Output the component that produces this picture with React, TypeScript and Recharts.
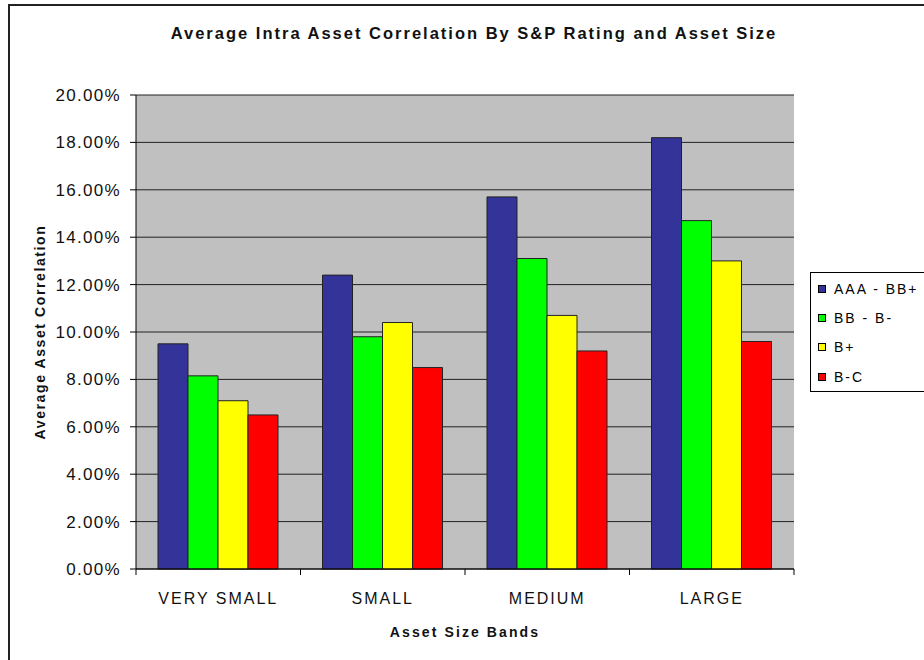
import React from 'react';
import { BarChart, Bar, XAxis, YAxis, CartesianGrid, Legend } from 'recharts';

const categories = ['VERY SMALL', 'SMALL', 'MEDIUM', 'LARGE'];
const aaaToBBPlus = [9.5, 12.4, 15.7, 18.2];
const bbToBMinus = [8.15, 9.8, 13.1, 14.7];
const bPlus = [7.1, 10.4, 10.7, 13.0];
const bToC = [6.5, 8.5, 9.2, 9.6];
const yTicks = [0, 2, 4, 6, 8, 10, 12, 14, 16, 18, 20];

const series = [
  { key: 'aaa', name: 'AAA - BB+', color: '#333399', values: aaaToBBPlus },
  { key: 'bb', name: 'BB - B-', color: '#00FF00', values: bbToBMinus },
  { key: 'bp', name: 'B+', color: '#FFFF00', values: bPlus },
  { key: 'bc', name: 'B-C', color: '#FF0000', values: bToC },
];

const data = categories.map((cat, i) => {
  const row: Record<string, string | number> = { cat };
  series.forEach(s => {
    row[s.key] = s.values[i];
  });
  return row;
});

const W = 924;
const H = 660;
const margin = { top: 95, right: 130, bottom: 21, left: 0 };
const yAxisWidth = 136;
const xAxisHeight = 70;
const plotWidth = W - margin.left - margin.right - yAxisWidth;
const band = plotWidth / categories.length;

const font = '"Liberation Sans", Arial, sans-serif';

const XTick = (props: any) => {
  const { x, y, payload, index } = props;
  const top = y - 8;
  return (
    <g>
      <line x1={x - band / 2} y1={top} x2={x - band / 2} y2={top + 6} stroke="#000" />
      {index === categories.length - 1 && (
        <line x1={x + band / 2} y1={top} x2={x + band / 2} y2={top + 6} stroke="#000" />
      )}
      <text
        x={x}
        y={top + 35}
        textAnchor="middle"
        fill="#111"
        fontSize={16}
        letterSpacing={2}
        fontFamily={font}
      >
        {payload.value}
      </text>
    </g>
  );
};

const LegendBox = () => (
  <div
    style={{
      border: '1px solid #000',
      background: '#fff',
      width: 120,
      height: 120,
      boxSizing: 'border-box',
      paddingTop: 1,
      fontFamily: font,
      fontSize: 14,
      letterSpacing: 2,
      color: '#000',
    }}
  >
    {series.map(s => (
      <div key={s.key} style={{ display: 'flex', alignItems: 'center', height: 29.3 }}>
        <span
          style={{
            display: 'inline-block',
            width: 6,
            height: 6,
            background: s.color,
            border: '1px solid #000',
            marginLeft: 7,
            marginRight: 8,
          }}
        />
        <span style={{ whiteSpace: 'nowrap' }}>{s.name}</span>
      </div>
    ))}
  </div>
);

export default function App() {
  return (
    <div
      style={{
        position: 'absolute',
        left: 0,
        top: 0,
        width: W,
        height: H,
        background: '#fff',
        overflow: 'hidden',
      }}
    >
      <div
        style={{
          position: 'absolute',
          left: 8,
          top: 4,
          width: W,
          height: H,
          borderLeft: '2px solid #222',
          borderTop: '2px solid #222',
        }}
      />
      <div
        style={{
          position: 'absolute',
          left: 0,
          top: 24,
          width: 948,
          textAlign: 'center',
          fontFamily: font,
          fontWeight: 'bold',
          fontSize: 16.5,
          letterSpacing: 2,
          color: '#111',
        }}
      >
        Average Intra Asset Correlation By S&amp;P Rating and Asset Size
      </div>
      <BarChart
        width={W}
        height={H}
        data={data}
        margin={margin}
        barCategoryGap={22}
        barGap={0}
        style={{ position: 'absolute', left: 0, top: 0 }}
      >
        <CartesianGrid vertical={false} stroke="#222" fill="#C0C0C0" />
        <XAxis
          dataKey="cat"
          height={xAxisHeight}
          axisLine={{ stroke: '#000' }}
          tickLine={false}
          tick={<XTick />}
          interval={0}
          label={{
            content: ({ viewBox }: any) => (
              <text
                x={viewBox.x + viewBox.width / 2}
                y={viewBox.y + 68}
                textAnchor="middle"
                fontFamily={font}
                fontWeight="bold"
                fontSize={14}
                letterSpacing={2.1}
                fill="#111"
              >
                Asset Size Bands
              </text>
            ),
          }}
        />
        <YAxis
          width={yAxisWidth}
          domain={[0, 20]}
          ticks={yTicks}
          interval={0}
          axisLine={{ stroke: '#000' }}
          tickLine={{ stroke: '#000' }}
          tickSize={6}
          tickMargin={9}
          tickFormatter={(v: number) => `${v.toFixed(2)}%`}
          tick={{ fill: '#111', fontSize: 17, letterSpacing: 1.3, fontFamily: font }}
          label={{
            content: ({ viewBox }: any) => {
              const cy = viewBox.y + viewBox.height / 2;
              return (
                <text
                  x={45}
                  y={cy}
                  transform={`rotate(-90, 45, ${cy})`}
                  textAnchor="middle"
                  fontFamily={font}
                  fontWeight="bold"
                  fontSize={14}
                  letterSpacing={1.6}
                  fill="#111"
                >
                  Average Asset Correlation
                </text>
              );
            },
          }}
        />
        <Legend
          layout="horizontal"
          verticalAlign="middle"
          content={<LegendBox />}
          wrapperStyle={{ position: 'absolute', left: 810, top: 272, width: 120, height: 120 }}
        />
        {series.map(s => (
          <Bar
            key={s.key}
            dataKey={s.key}
            name={s.name}
            fill={s.color}
            stroke="#222"
            strokeWidth={1}
            isAnimationActive={false}
          />
        ))}
      </BarChart>
    </div>
  );
}
